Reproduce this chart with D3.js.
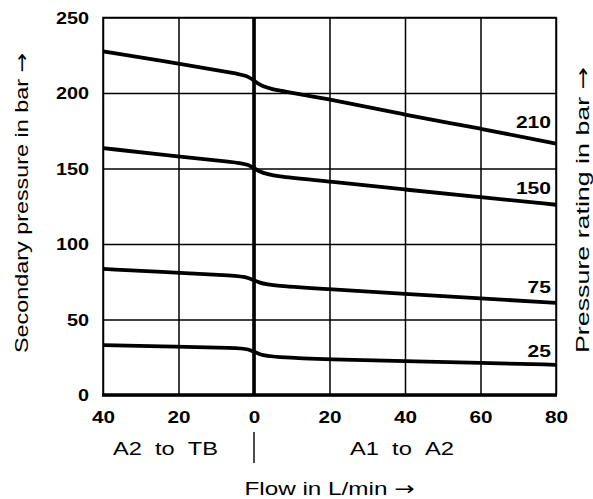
<!DOCTYPE html>
<html>
<head>
<meta charset="utf-8">
<script src="https://cdn.jsdelivr.net/npm/d3@7"></script>
<style>
  body { margin: 0; background: #fff; }
  svg { font-family: Arial, "Liberation Sans", sans-serif; }
  .tick text { font-weight: bold; font-size: 16px; fill: #000; }
  .grid line { stroke: #000; stroke-width: 1.5; }
  .grid .domain { display: none; }
  .arrow { font-family: "DejaVu Sans", sans-serif; }
</style>
</head>
<body>
<div id="chart"></div>
<script>
// flow in L/min (negative = A2 to TB side)
var flows = [-40, -20, -5, -1.5, 1.5, 5, 20, 40, 60, 80];
var ratings = ["210", "150", "75", "25"];
var p210 = [227.5, 219.5, 213, 211.5, 205, 202, 196, 185.5, 176.5, 166.5];
var p150 = [163.5, 158, 154, 153, 147.5, 145, 141.5, 136, 131, 126];
var p75  = [83.5, 81, 79, 78, 74, 72.5, 70, 67, 64, 61];
var p25  = [33, 32, 31.2, 30.8, 26.5, 25.2, 23.5, 22.5, 21.3, 20];
var xTicks = [-40, -20, 0, 20, 40, 60, 80];
var yTicks = [0, 50, 100, 150, 200, 250];

var series = [p210, p150, p75, p25];

var width = 593, height = 499;
var margin = {top: 17.5, right: 37, bottom: 104, left: 103};

var svg = d3.select("#chart").append("svg")
    .attr("width", width)
    .attr("height", height);

var x = d3.scaleLinear().domain([-40, 80]).range([margin.left, width - margin.right]);
var y = d3.scaleLinear().domain([0, 250]).range([height - margin.bottom, margin.top]);

// grid
svg.append("g")
    .attr("class", "grid")
    .attr("transform", "translate(0," + margin.top + ")")
    .call(d3.axisTop(x).tickValues(xTicks).tickSize(-(y(0) - margin.top)).tickFormat(""));
svg.append("g")
    .attr("class", "grid")
    .attr("transform", "translate(" + x(-40) + ",0)")
    .call(d3.axisLeft(y).tickValues(yTicks).tickSize(-(x(80) - x(-40))).tickFormat(""));

// frame
svg.append("rect")
    .attr("x", x(-40)).attr("y", y(250))
    .attr("width", x(80) - x(-40)).attr("height", y(0) - y(250))
    .attr("fill", "none").attr("stroke", "#000").attr("stroke-width", 1.5);

// thick zero line and bottom axis
svg.append("line")
    .attr("x1", x(0)).attr("x2", x(0)).attr("y1", y(250)).attr("y2", y(0))
    .attr("stroke", "#000").attr("stroke-width", 3.6);
svg.append("line")
    .attr("x1", x(-40) - 1).attr("x2", x(80) + 1).attr("y1", y(0)).attr("y2", y(0))
    .attr("stroke", "#000").attr("stroke-width", 3.4);

// tick labels
var xAxis = svg.append("g")
    .attr("transform", "translate(0," + y(0) + ")")
    .call(d3.axisBottom(x).tickValues(xTicks).tickSize(0).tickPadding(0)
      .tickFormat(function(d) { return Math.abs(d); }));
xAxis.select(".domain").remove();
xAxis.selectAll(".tick text")
    .attr("y", 27.5).attr("dy", null)
    .attr("textLength", function() { return 11.5 * this.textContent.length; })
    .attr("lengthAdjust", "spacingAndGlyphs");

var yAxis = svg.append("g")
    .attr("transform", "translate(" + x(-40) + ",0)")
    .call(d3.axisLeft(y).tickValues(yTicks).tickSize(0).tickPadding(14));
yAxis.select(".domain").remove();
yAxis.selectAll(".tick text")
    .attr("dy", "0.36em")
    .attr("textLength", function() { return 11 * this.textContent.length; })
    .attr("lengthAdjust", "spacingAndGlyphs");

// curves
var line = d3.line()
    .x(function(d, i) { return x(flows[i]); })
    .y(function(d) { return y(d); })
    .curve(d3.curveBasis);

svg.selectAll(".curve")
    .data(series)
    .enter().append("path")
      .attr("class", "curve")
      .attr("d", line)
      .attr("fill", "none")
      .attr("stroke", "#000")
      .attr("stroke-width", 3.8);

// rating labels, sitting just above each curve near the right edge
svg.selectAll(".rating")
    .data(series)
    .enter().append("text")
      .attr("class", "rating")
      .attr("x", x(80) - 5)
      .attr("y", function(d) {
        var at = d3.scaleLinear().domain(flows).range(d);
        return y(at(69)) - 7;
      })
      .attr("text-anchor", "end")
      .attr("font-weight", "bold")
      .attr("font-size", 17)
      .attr("textLength", function(d, i) { return 11.7 * ratings[i].length; })
      .attr("lengthAdjust", "spacingAndGlyphs")
      .text(function(d, i) { return ratings[i]; });

// direction labels
svg.append("text")
    .attr("x", x(-40) + 10).attr("y", 455)
    .attr("font-size", 18.5)
    .attr("textLength", 105)
    .attr("lengthAdjust", "spacingAndGlyphs")
    .text("A2\u00a0\u00a0to\u00a0\u00a0TB");
svg.append("text")
    .attr("x", 350).attr("y", 455)
    .attr("font-size", 18.5)
    .attr("textLength", 104)
    .attr("lengthAdjust", "spacingAndGlyphs")
    .text("A1\u00a0\u00a0to\u00a0\u00a0A2");
svg.append("line")
    .attr("x1", x(0)).attr("x2", x(0)).attr("y1", 432).attr("y2", 463)
    .attr("stroke", "#000").attr("stroke-width", 1.4);

// axis titles
function titleWithArrow(sel, label) {
  sel.append("tspan").text(label + " ");
  sel.append("tspan").attr("class", "arrow").text("\u2192");
}

svg.append("text")
    .attr("x", (x(-40) + x(80)) / 2 - 85).attr("y", 495)
    .attr("font-size", 19)
    .attr("textLength", 170)
    .attr("lengthAdjust", "spacingAndGlyphs")
    .call(titleWithArrow, "Flow in L/min");
svg.append("text")
    .attr("transform", "translate(21,353) rotate(-90)")
    .attr("dominant-baseline", "central")
    .attr("font-size", 19)
    .attr("textLength", 300)
    .attr("lengthAdjust", "spacingAndGlyphs")
    .call(titleWithArrow, "Secondary pressure in bar");
svg.append("text")
    .attr("transform", "translate(582,353) rotate(-90)")
    .attr("dominant-baseline", "central")
    .attr("font-size", 19)
    .attr("textLength", 286)
    .attr("lengthAdjust", "spacingAndGlyphs")
    .call(titleWithArrow, "Pressure rating in bar");
</script>
</body>
</html>
